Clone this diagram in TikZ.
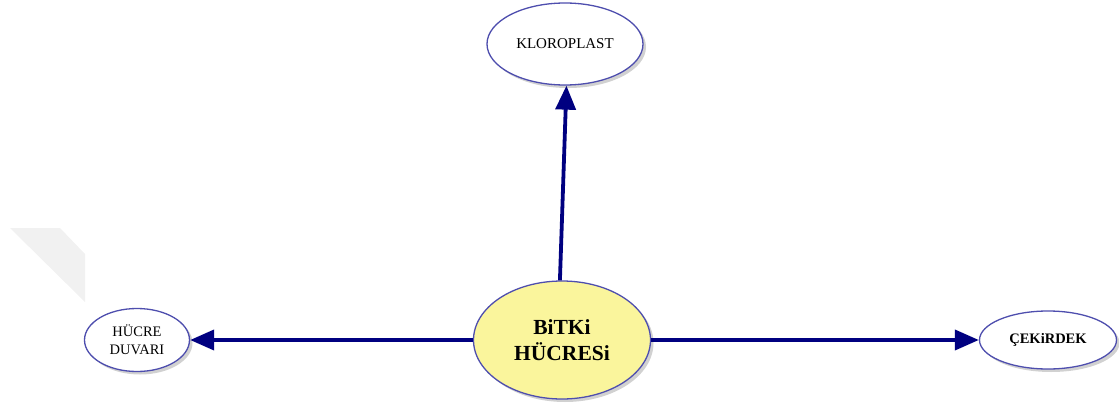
\documentclass[tikz,border=0pt]{standalone}
\usepackage{fontspec}
\setmainfont{Liberation Serif}
\usetikzlibrary{shapes.geometric,arrows.meta,shadows}
\definecolor{rim}{HTML}{4E4EAE}
\definecolor{navy}{HTML}{000080}
\definecolor{cellfill}{HTML}{FAF59C}
\definecolor{cornergrey}{HTML}{F1F1F1}
\tikzset{
  bubble/.style={ellipse, draw=rim, line width=1.3pt, fill=white, inner sep=0pt,
    align=center, text=black,
    drop shadow={shadow xshift=3pt, shadow yshift=-3pt, fill=black!40, opacity=0.45}},
  link/.style={draw=navy, line width=3.8pt,
    -{Triangle[length=24pt,width=20pt]}}
}
\begin{document}
\begin{tikzpicture}[x=1pt,y=-1pt]
  \useasboundingbox (0,0) rectangle (1119,409);
  % faint corner shape
  \fill[cornergrey] (10,228) -- (60,228) -- (85,254) -- (85,302) -- cycle;
  % nodes
  \node[bubble, fill=cellfill, minimum width=177pt, minimum height=118pt,
        font=\bfseries\fontsize{21.5}{26}\selectfont] (c) at (562,340) {BiTKi\\HÜCRESi};
  \node[bubble, minimum width=156pt, minimum height=82pt,
        font=\fontsize{15}{18}\selectfont] (k) at (565,44) {KLOROPLAST};
  \node[bubble, minimum width=105pt, minimum height=63pt,
        font=\fontsize{14.5}{18}\selectfont] (h) at (137,340) {HÜCRE\\DUVARI};
  \node[bubble, minimum width=137pt, minimum height=58pt,
        font=\bfseries\fontsize{14.5}{18}\selectfont] (e) at (1048,340) {ÇEKiRDEK};
  % connectors
  \draw[link] (c.92) -- (k.272);
  \draw[link] (c.west) -- (h.east);
  \draw[link] (c.east) -- (e.west);
\end{tikzpicture}
\end{document}
